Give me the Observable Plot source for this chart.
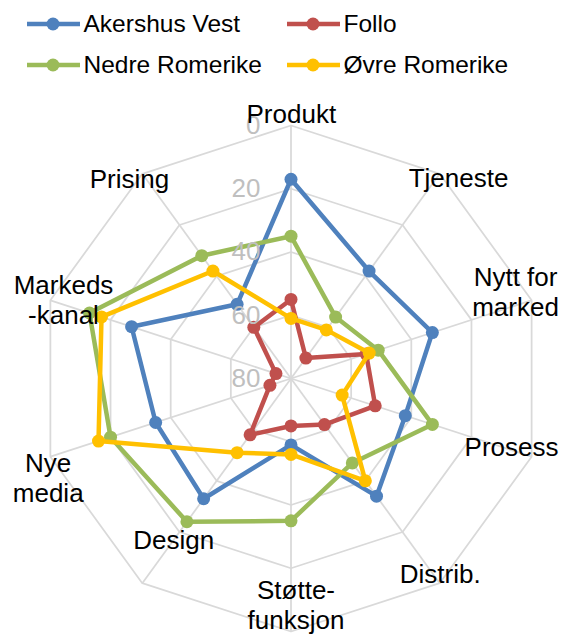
<!DOCTYPE html>
<html>
<head>
<meta charset="utf-8">
<script src="https://cdn.jsdelivr.net/npm/d3@7"></script>
<script src="https://cdn.jsdelivr.net/npm/@observablehq/plot@0.6"></script>
<style>
  html, body { margin: 0; padding: 0; background: #fff; }
  body { width: 561px; height: 635px; overflow: hidden; font-family: "Liberation Sans", Arial, sans-serif; }
  #legend { position: relative; height: 90px; width: 561px; }
  .item { position: absolute; display: flex; align-items: center; height: 40px; font-size: 24.5px; color: #000; white-space: nowrap; }
  .item svg { margin-right: 3.5px; }
</style>
</head>
<body>
<div id="legend"></div>
<div id="chart"></div>
<script>
// ---- data ----
const categories = ["Produkt", "Tjeneste", "Nytt for\nmarked", "Prosess", "Distrib.", "Støtte-\nfunksjon", "Design", "Nye\nmedia", "Markeds\n-kanal", "Prising"];
const seriesNames = ["Akershus Vest", "Follo", "Nedre Romerike", "Øvre Romerike"];
const akershusVest  = [17, 38, 33, 42, 34, 59, 33, 35, 27, 51];
const follo         = [55, 72, 55, 52, 62, 65, 58, 73, 75, 60];
const nedreRomerike = [35, 56, 51, 33, 47, 35, 24, 20, 13, 32];
const ovreRomerike  = [61, 61, 54, 63, 40, 56, 51, 16, 17, 38];
const ticks = [0, 20, 40, 60, 80];
const colors = ["#4F81BD", "#C0504D", "#9BBB59", "#FFC000"];

// ---- layout ----
const W = 561, H = 545, CX = 290.5, CY = 288, R = 253;
const legendPos = [[27, 4], [287, 4], [27, 45], [287, 45]];
// pixel nudges of each category label from its outer vertex (Excel-like placement)
const labelNudge = [[0.3, -12.4], [18.8, 4], [-16.1, -8.6], [-20.1, -10.2], [0.5, -9.4], [5, -27], [31.5, -44.1], [-2.2, 20.9], [13.1, -1.2], [-12.8, 5]];

const allSeries = [akershusVest, follo, nedreRomerike, ovreRomerike];
const n = categories.length;
const ang = i => i * 2 * Math.PI / n;
const rad = d3.scaleLinear().domain([0, 80]).range([1, 0]); // reversed radial axis
const px = (v, i) => rad(v) * Math.sin(ang(i));
const py = (v, i) => rad(v) * Math.cos(ang(i));

const rows = seriesNames.flatMap((s, k) => allSeries[k].map((v, i) => ({series: s, i, value: v})));
const ringRows = ticks.filter(t => rad(t) > 0).flatMap(t => categories.map((c, i) => ({t, i})));
const spokes = categories.map((c, i) => ({i}));

// ---- legend ----
const legend = document.getElementById("legend");
seriesNames.forEach((s, k) => {
  const it = document.createElement("div");
  it.className = "item";
  it.style.left = legendPos[k][0] + "px";
  it.style.top = legendPos[k][1] + "px";
  it.innerHTML = `<svg width="53" height="16"><line x1="0" x2="53" y1="8" y2="8" stroke="${colors[k]}" stroke-width="4.5"/><circle cx="26" cy="8" r="6.5" fill="${colors[k]}"/></svg><span>${s}</span>`;
  legend.appendChild(it);
});

// ---- chart ----
const seriesMarks = seriesNames.flatMap((s, k) => {
  const data = rows.filter(d => d.series === s);
  return [
    Plot.line(data, {x: d => px(d.value, d.i), y: d => py(d.value, d.i), stroke: colors[k], strokeWidth: 4.5, curve: "linear-closed", strokeLinejoin: "round"}),
    Plot.dot(data, {x: d => px(d.value, d.i), y: d => py(d.value, d.i), fill: colors[k], r: 6.5, stroke: null})
  ];
});

const chart = Plot.plot({
  width: W,
  height: H,
  margin: 0,
  style: {fontFamily: "'Liberation Sans', Arial, sans-serif", background: "#fff"},
  x: {domain: [-CX / R, (W - CX) / R], range: [0, W], axis: null},
  y: {domain: [-(H - CY) / R, CY / R], range: [H, 0], axis: null},
  marks: [
    Plot.line(ringRows, {x: d => px(d.t, d.i), y: d => py(d.t, d.i), z: "t", curve: "linear-closed", stroke: "#d9d9d9", strokeWidth: 1.75}),
    Plot.link(spokes, {x1: 0, y1: 0, x2: d => px(0, d.i), y2: d => py(0, d.i), stroke: "#d9d9d9", strokeWidth: 1.75}),
    ...seriesMarks,
    Plot.text(ticks, {x: () => 0, y: t => rad(t), text: t => String(t), dx: -30.5, textAnchor: "end", lineAnchor: "middle", fill: "#bfbfbf", fontSize: 26}),
    Plot.text(categories, {
      x: (c, i) => px(0, i) + labelNudge[i][0] / R,
      y: (c, i) => py(0, i) - labelNudge[i][1] / R,
      text: c => c, textAnchor: "middle", lineAnchor: "middle", lineHeight: 1.16,
      fill: "#000", fontSize: 26
    })
  ]
});
document.getElementById("chart").appendChild(chart);
</script>
</body>
</html>
